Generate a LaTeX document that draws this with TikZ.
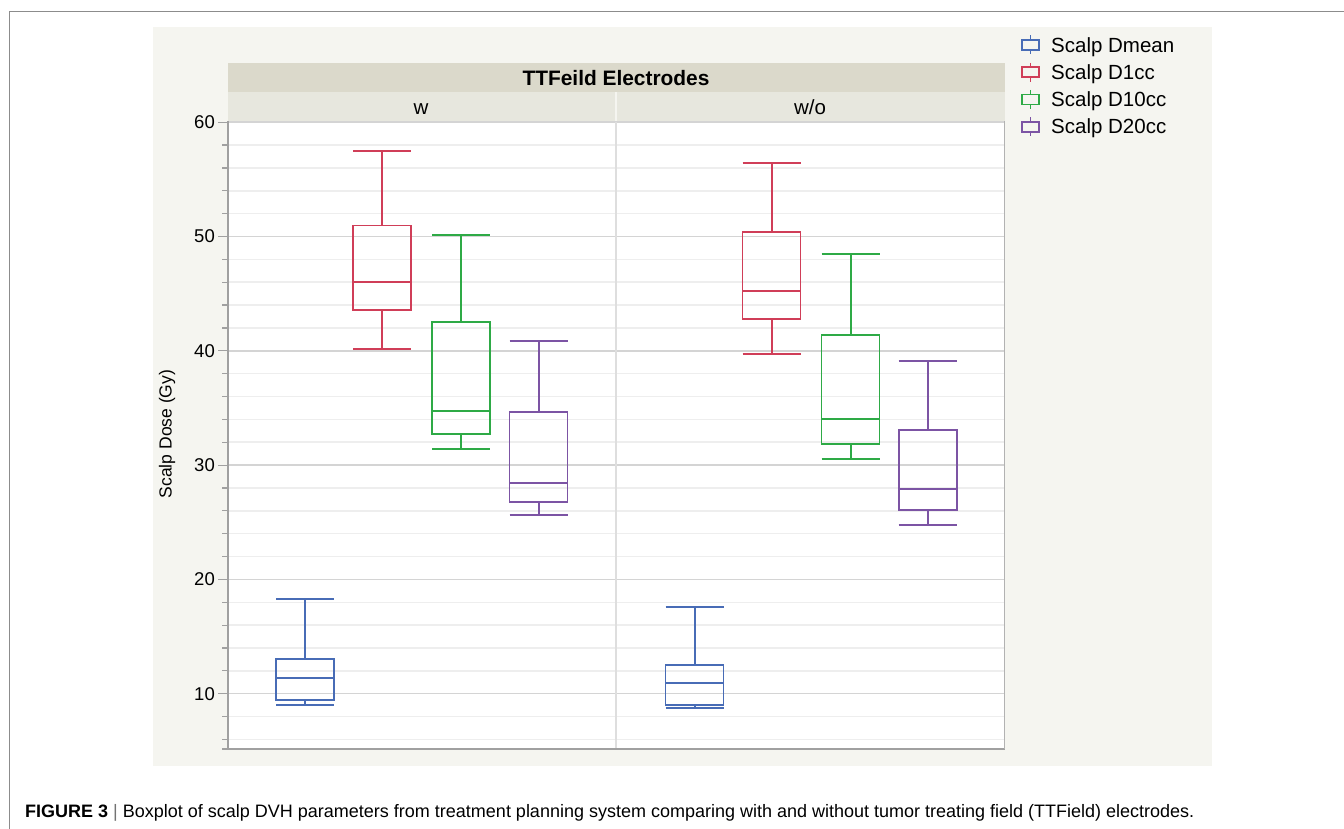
\documentclass[tikz,border=0pt]{standalone}
\usepackage{fontspec}
\setmainfont{Liberation Sans}
\definecolor{cblue}{RGB}{72,108,182}
\definecolor{cred}{RGB}{208,62,88}
\definecolor{cgreen}{RGB}{46,170,70}
\definecolor{cpurple}{RGB}{124,84,164}
\definecolor{panelbg}{RGB}{245,245,240}
\definecolor{hdrdark}{RGB}{219,217,203}
\definecolor{hdrlight}{RGB}{231,231,222}
\definecolor{majgrid}{RGB}{212,212,212}
\definecolor{mingrid}{RGB}{238,238,238}
\definecolor{axisgray}{RGB}{160,160,160}
\definecolor{framegray}{RGB}{140,140,140}
\tikzset{
  whisk/.style={line width=2pt},
  boxln/.style={line width=1.8pt},
  ticklab/.style={anchor=east, inner sep=0pt, font=\fontsize{18.5}{22}\selectfont},
  legtext/.style={anchor=base west, inner sep=0pt, font=\fontsize{20.5}{24}\selectfont},
}
\newcommand\bxplot[8]{%
  % #1 color, #2 xl, #3 xr, #4 min, #5 q1, #6 med, #7 q3, #8 max
  \draw[#1, whisk] ({(#2+#3)/2},#4) -- ({(#2+#3)/2},#5);
  \draw[#1, whisk] ({(#2+#3)/2},#7) -- ({(#2+#3)/2},#8);
  \draw[#1, whisk] (#2,#4) -- (#3,#4);
  \draw[#1, whisk] (#2,#8) -- (#3,#8);
  \draw[#1, boxln] (#2,#5) rectangle (#3,#7);
  \draw[#1, whisk] (#2,#6) -- (#3,#6);
}
\newcommand\legicon[2]{%
  % #1 color, #2 y center
  \draw[#1, line width=1.8pt] (1030.5,#2-9.5) -- (1030.5,#2+9.5);
  \draw[#1, line width=1.8pt, fill=panelbg] (1022,#2-5) rectangle (1039,#2+5);
}
\begin{document}
\begin{tikzpicture}[x=1pt,y=-1pt]
\useasboundingbox (0,0) rectangle (1344,829);
\fill[white] (0,0) rectangle (1344,829);
% outer frame
\draw[framegray, line width=1pt] (9,829) -- (9,12) -- (1344,12);
% panel
\fill[panelbg] (153,27) rectangle (1212,766);
% headers
\fill[hdrdark] (228,63) rectangle (1005,92);
\fill[hdrlight] (228,92) rectangle (1005,121);
\fill[white] (228,121) rectangle (1005,749);
\node[font=\bfseries\fontsize{20.9}{24}\selectfont, inner sep=0pt, anchor=base] (hdr) at (616,85.5) {TTFeild Electrodes};
\node[font=\fontsize{20.5}{24}\selectfont, inner sep=0pt, anchor=base] (colw) at (421,114.3) {w};
\node[font=\fontsize{20.5}{24}\selectfont, inner sep=0pt, anchor=base] (colwo) at (810,114.3) {w/o};
\draw[panelbg, line width=2.5pt] (616,92) -- (616,121);
% data scope: (x px, value)
\begin{scope}[y=11.43pt, yshift=-808pt]
  \foreach \v in {6,8,12,14,16,18,22,24,26,28,32,34,36,38,42,44,46,48,52,54,56,58} {
    \draw[mingrid, line width=1.5pt] (228,\v) -- (1004,\v);
    \draw[axisgray, line width=1.2pt] (222,\v) -- (228,\v);
  }
  \foreach \v in {10,20,30,40,50,60} {
    \draw[majgrid, line width=1.5pt] (228,\v) -- (1004,\v);
    \draw[axisgray, line width=1.2pt] (218,\v) -- (228,\v);
  }
  \node[ticklab] (t60) at (215,60) {60};
  \node[ticklab] (t50) at (215,50) {50};
  \node[ticklab] (t40) at (215,40) {40};
  \node[ticklab] (t30) at (215,30) {30};
  \node[ticklab] (t20) at (215,20) {20};
  \node[ticklab] (t10) at (215,10) {10};
  % divider
  \draw[black!13, line width=1.6pt] (616,60) -- (616,5.16);
  % axes
  \draw[axisgray, line width=1.5pt] (228,60.1) -- (228,5.16) -- (222,5.16);
  \draw[axisgray, line width=1.5pt] (228,5.16) -- (1005,5.16);
  \draw[black!30, line width=1.8pt] (1004.5,60.1) -- (1004.5,5.16);
  % boxes, w
  \bxplot{cblue}{276}{334}{8.99}{9.43}{11.36}{13.04}{18.27}
  \bxplot{cred}{353}{411}{40.18}{43.54}{46.05}{50.97}{57.46}
  \bxplot{cgreen}{432}{490}{31.44}{32.7}{34.76}{42.55}{50.16}
  \bxplot{cpurple}{509.5}{567.5}{25.66}{26.77}{28.44}{34.62}{40.88}
  % boxes, w/o
  \bxplot{cblue}{665.5}{723.5}{8.77}{8.98}{10.96}{12.54}{17.6}
  \bxplot{cred}{742.5}{800.5}{39.75}{42.81}{45.23}{50.42}{56.44}
  \bxplot{cgreen}{821.5}{879.5}{30.56}{31.85}{34.03}{41.38}{48.5}
  \bxplot{cpurple}{898.7}{956.7}{24.79}{26.1}{27.94}{33.07}{39.13}
\end{scope}
% y label
\node[rotate=90, inner sep=0pt, font=\fontsize{17.5}{21}\selectfont] (ylab) at (167,434) {Scalp Dose (Gy)};
% legend
\legicon{cblue}{45}
\legicon{cred}{72.3}
\legicon{cgreen}{99.5}
\legicon{cpurple}{126.7}
\node[legtext] (l1) at (1051,52.3) {Scalp Dmean};
\node[legtext] (l2) at (1051,79.5) {Scalp D1cc};
\node[legtext] (l3) at (1051,106.7) {Scalp D10cc};
\node[legtext] (l4) at (1051,134) {Scalp D20cc};
% caption
\node[anchor=west, inner sep=0pt, font=\fontsize{18}{21}\selectfont] (cap) at (25,813)
  {\textbf{FIGURE 3} {\color{black!55}|} Boxplot of scalp DVH parameters from treatment planning system comparing with and without tumor treating field (TTField) electrodes.};
\end{tikzpicture}
\end{document}
